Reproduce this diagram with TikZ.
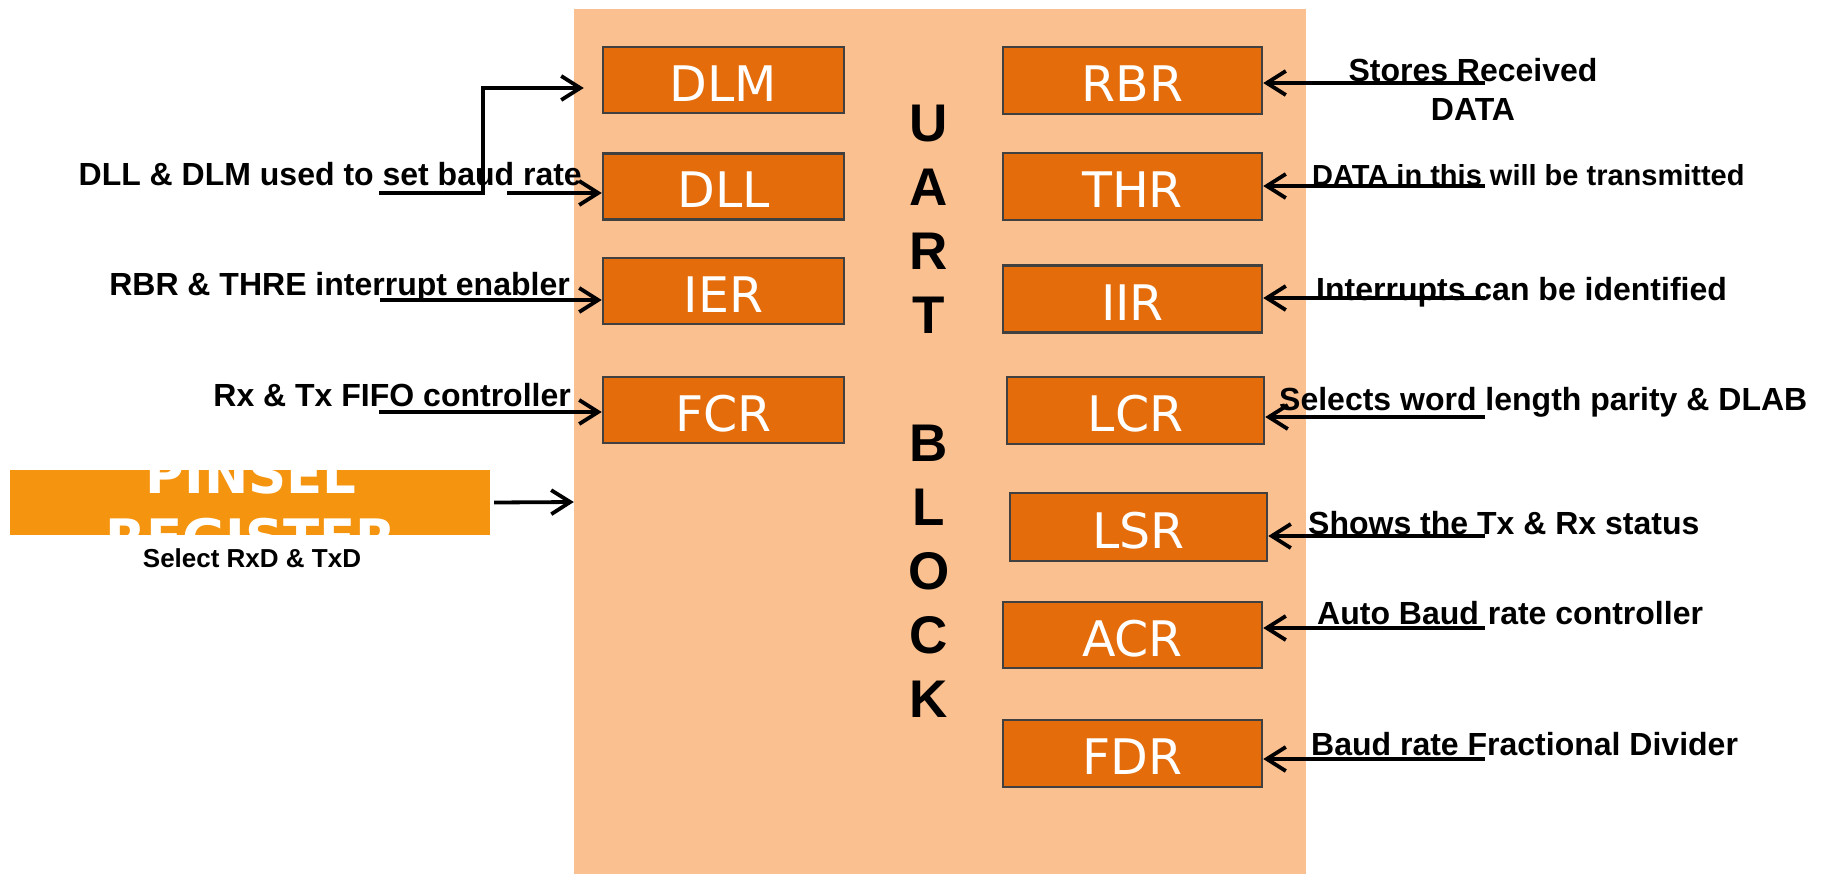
\documentclass[tikz,border=0pt]{standalone}
\usepackage{fontspec}
\setmainfont{Liberation Sans}
\newfontfamily\dejavu{DejaVu Sans}
\usetikzlibrary{arrows.meta,calc}
\definecolor{blockbg}{HTML}{FAC090}
\definecolor{regfill}{HTML}{E46C0A}
\definecolor{regedge}{HTML}{404040}
\definecolor{pinfill}{HTML}{F5940E}
\tikzset{
  regbox/.style={draw=regedge, line width=2.5pt, fill=regfill, text=white,
    font=\dejavu\fontsize{49}{55}\selectfont, text height=42pt, text depth=0pt, inner sep=0pt},
  lbl/.style={font=\bfseries\fontsize{32}{38}\selectfont, inner sep=0pt},
  smalllbl/.style={font=\bfseries\fontsize{29}{34}\selectfont, inner sep=0pt},
  uartletter/.style={font=\bfseries\fontsize{53}{60}\selectfont, inner sep=0pt, anchor=base},
  arr/.style={line width=3.8pt, -{Straight Barb[length=19pt,width=24pt]}},
}
\begin{document}
\begin{tikzpicture}[x=1pt,y=-1pt]
\useasboundingbox (0,0) rectangle (1825,873);
% UART block background
\node[fill=blockbg, inner sep=0pt, minimum width=732pt, minimum height=865pt] (uart) at (940,441.5) {};
% UART BLOCK letters
\foreach \ch/\k in {U/0,A/1,R/2,T/3,B/5,L/6,O/7,C/8,K/9}
  \node[uartletter] (let\k) at (929,{141+64.1*\k}) {\ch};
% left registers
\node[regbox, minimum width=241pt, minimum height=66pt] (DLM) at (723.5,80) {DLM};
\node[regbox, minimum width=241pt, minimum height=66pt] (DLL) at (723.5,186.5) {DLL};
\node[regbox, minimum width=241pt, minimum height=66pt] (IER) at (723.5,291) {IER};
\node[regbox, minimum width=241pt, minimum height=66pt] (FCR) at (723.5,410) {FCR};
% right registers
\node[regbox, minimum width=259pt, minimum height=67pt] (RBR) at (1132.5,80.5) {RBR};
\node[regbox, minimum width=259pt, minimum height=67pt] (THR) at (1132.5,186.5) {THR};
\node[regbox, minimum width=259pt, minimum height=67pt] (IIR) at (1132.5,299) {IIR};
\node[regbox, minimum width=257pt, minimum height=67pt] (LCR) at (1135.5,410.5) {LCR};
\node[regbox, minimum width=257pt, minimum height=68pt] (LSR) at (1138.5,527) {LSR};
\node[regbox, minimum width=259pt, minimum height=66pt] (ACR) at (1132.5,635) {ACR};
\node[regbox, minimum width=259pt, minimum height=67pt] (FDR) at (1132.5,753.5) {FDR};
% PINSEL register
\node[fill=pinfill, inner sep=0pt, minimum width=480pt, minimum height=65pt] (PIN) at (250,502.5) {};
\begin{scope}
  \clip (PIN.south west) rectangle (PIN.north east);
  \node[font=\dejavu\bfseries\fontsize{53}{60}\selectfont, text=white, inner sep=0pt, anchor=base] (pin1) at (251,493) {PINSEL};
  \node[font=\dejavu\bfseries\fontsize{53}{60}\selectfont, text=white, inner sep=0pt, anchor=base] (pin2) at (251,557) {REGISTER};
\end{scope}
\node[font=\bfseries\fontsize{26}{31}\selectfont, inner sep=0pt, anchor=base] (pinlbl) at (252,567) {Select RxD \& TxD};
% left texts
\node[lbl, anchor=base east] (tDLL) at (582,185) {DLL \& DLM used to set baud rate};
\node[lbl, anchor=base east] (tIER) at (570,295) {RBR \& THRE interrupt enabler};
\node[lbl, anchor=base east] (tFCR) at (571,406) {Rx \& Tx FIFO controller};
% right texts
\node[lbl, anchor=base] (tRBR1) at (1473,81) {Stores Received};
\node[lbl, anchor=base] (tRBR2) at (1473,120) {DATA};
\node[smalllbl, anchor=base west] (tTHR) at (1312,185) {DATA in this will be transmitted};
\node[lbl, anchor=base west] (tIIR) at (1316,300) {Interrupts can be identified};
\node[lbl, anchor=base west] (tLCR) at (1279,410) {Selects word length parity \& DLAB};
\node[lbl, anchor=base west] (tLSR) at (1308,534) {Shows the Tx \& Rx status};
\node[lbl, anchor=base west] (tACR) at (1317,624) {Auto Baud rate controller};
\node[lbl, anchor=base west] (tFDR) at (1311,755) {Baud rate Fractional Divider};
% left connectors
\coordinate (sDLM) at (379,193);
\coordinate (eDLM) at ($(DLM.west)+(-18,8)$);
\draw[arr] (sDLM) -- ++(104,0) |- (eDLM);
\coordinate (sDLL) at (507,193);
\draw[arr] (sDLL) -- (sDLL -| DLL.west);
\coordinate (sIER) at (380,300);
\draw[arr] (sIER) -- (sIER -| IER.west);
\coordinate (sFCR) at (379,412);
\draw[arr] (sFCR) -- (sFCR -| FCR.west);
\draw[arr] ([xshift=4pt]PIN.east) -- ([yshift=0.5pt]PIN.east -| uart.west);
% right connectors
\foreach \r/\y in {RBR/83,THR/186,IIR/298,LCR/417,LSR/536,ACR/628,FDR/759}{
  \coordinate (s\r) at (1485,\y);
  \draw[arr] (s\r) -- (s\r -| \r.east);
}
\end{tikzpicture}
\end{document}
